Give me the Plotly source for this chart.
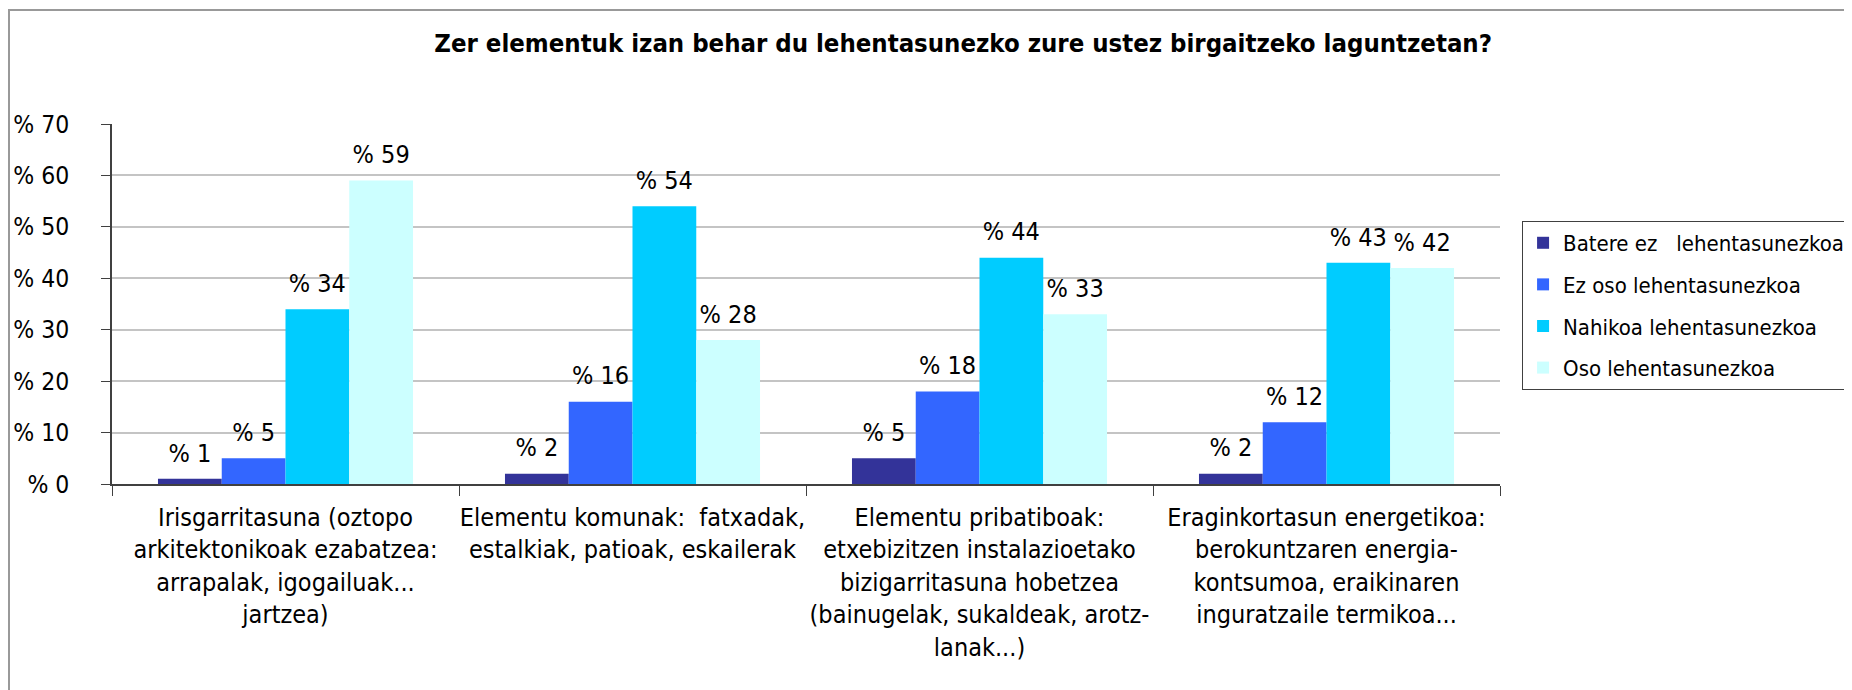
import plotly.graph_objects as go

categories = [
    "Irisgarritasuna (oztopo<br>arkitektonikoak ezabatzea:<br>arrapalak, igogailuak...<br>jartzea)",
    "Elementu komunak:  fatxadak,<br>estalkiak, patioak, eskailerak",
    "Elementu pribatiboak:<br>etxebizitzen instalazioetako<br>bizigarritasuna hobetzea<br>(bainugelak, sukaldeak, arotz-<br>lanak...)",
    "Eraginkortasun energetikoa:<br>berokuntzaren energia-<br>kontsumoa, eraikinaren<br>inguratzaile termikoa...",
]
series_names = [
    "Batere ez\u00a0\u00a0 lehentasunezkoa",
    "Ez oso lehentasunezkoa",
    "Nahikoa lehentasunezkoa",
    "Oso lehentasunezkoa",
]
batere_ez = [1, 2, 5, 2]
ez_oso = [5, 16, 18, 12]
nahikoa = [34, 54, 44, 43]
oso = [59, 28, 33, 42]
series_values = [batere_ez, ez_oso, nahikoa, oso]
colors = ["#333399", "#3366FF", "#00CCFF", "#CCFFFF"]
title_text = "Zer elementuk izan behar du lehentasunezko zure ustez birgaitzeko laguntzetan?"

FONT = "DejaVu Sans Condensed, DejaVu Sans, sans-serif"
GAP = 0.265
W, H = 1844, 682

fig = go.Figure()
for i, (name, vals, col) in enumerate(zip(series_names, series_values, colors)):
    fig.add_trace(go.Bar(
        x=categories, y=vals, name=name, marker=dict(color=col, line=dict(width=0)),
        offsetgroup=str(i), legendgroup=str(i), hoverinfo="skip",
    ))
for i, vals in enumerate(series_values):
    fig.add_trace(go.Scatter(
        x=categories, y=vals, mode="markers+text", offsetgroup=str(i),
        text=[f"% {v}" for v in vals], textposition="top center",
        textfont=dict(family=FONT, size=25, color="#000000"),
        marker=dict(size=16, color="rgba(0,0,0,0)"),
        showlegend=False, hoverinfo="skip", cliponaxis=False,
    ))

fig.update_layout(
    width=W, height=H,
    margin=dict(l=104, r=352, t=116, b=206, autoexpand=False),
    paper_bgcolor="white", plot_bgcolor="white",
    barmode="group", bargap=GAP, bargroupgap=0,
    scattermode="group", scattergap=GAP,
    font=dict(family=FONT, size=25, color="#000000"),
    title=dict(text="<b>" + title_text + "</b>", x=0.518, xanchor="center",
               y=1 - 35 / H, yanchor="middle",
               font=dict(family=FONT, size=25.5, color="#000000")),
    legend=dict(x=1.0159, xanchor="left", y=0.7306, yanchor="top",
                bordercolor="#404040", borderwidth=1, bgcolor="white",
                font=dict(family=FONT, size=22, color="#000000"),
                tracegroupgap=10, itemclick=False),
    showlegend=True,
)
fig.update_xaxes(
    type="category", showline=True, linecolor="#404040", linewidth=1.5,
    ticks="outside", tickson="boundaries", ticklen=10, tickcolor="#404040",
    tickfont=dict(family=FONT, size=25), ticklabelstandoff=10, tickangle=0,
    automargin=False, showgrid=False,
)
fig.update_yaxes(
    range=[0, 70], dtick=10, tickprefix="% ", showline=True, linecolor="#404040",
    linewidth=1.5, ticks="outside", ticklen=9, tickcolor="#404040",
    tickfont=dict(family=FONT, size=24.5), ticklabelstandoff=27, automargin=False,
    showgrid=True, gridcolor="#c4c4c4", gridwidth=1.5, zeroline=False,
)
fig.add_shape(type="rect", xref="paper", yref="paper",
              x0=(1 - 104) / 1388, x1=(1900 - 104) / 1388,
              y0=(476 - 740) / 360, y1=(476 - 2) / 360,
              line=dict(color="#999999", width=2), fillcolor="rgba(0,0,0,0)", layer="below")
fig.write_html("out.html")
